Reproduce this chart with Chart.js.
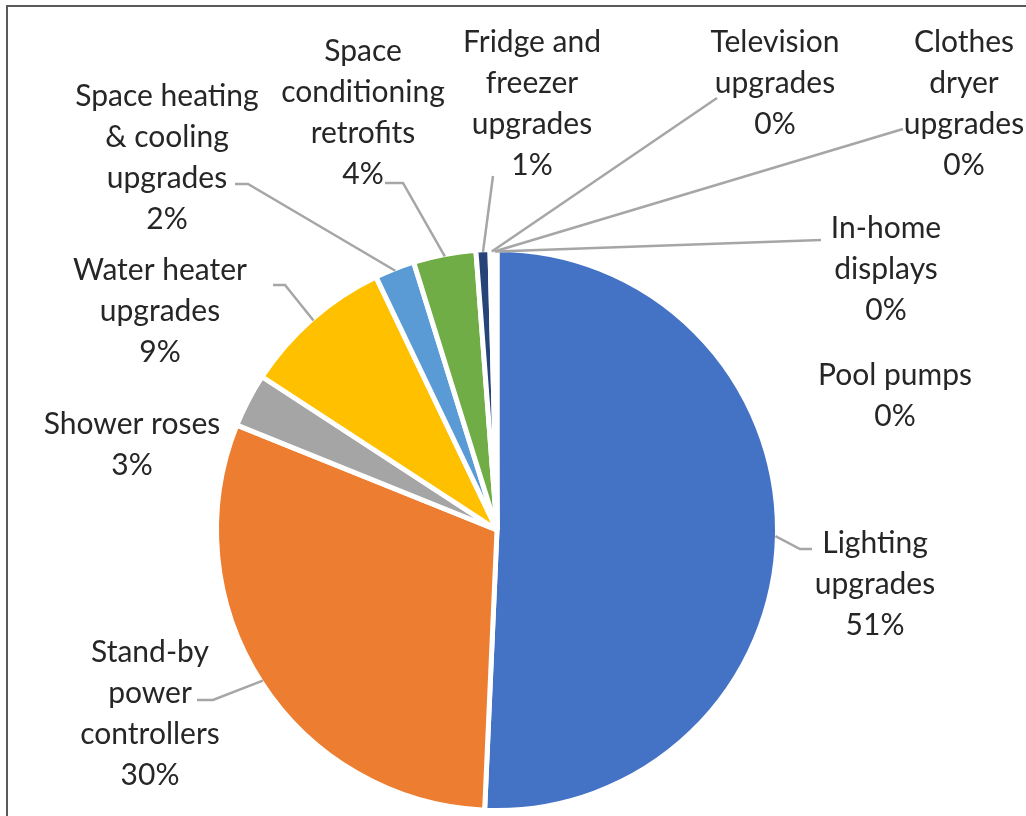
<!DOCTYPE html>
<html>
<head>
<meta charset="utf-8">
<script src="https://cdn.jsdelivr.net/npm/chart.js@4.4.1/dist/chart.umd.min.js"></script>
<style>
  html, body { margin: 0; padding: 0; background: #fff; }
  #wrap { position: relative; width: 1026px; height: 816px; overflow: hidden; }
  #frame { position: absolute; left: 6px; top: 5px; width: 1100px; height: 900px;
           border-left: 2px solid #5a5a5a; border-top: 2px solid #5a5a5a; }
  canvas { position: absolute; left: 0; top: 0; }
</style>
</head>
<body>
<div id="wrap">
  <div id="frame"></div>
  <canvas id="pie" width="1026" height="816"></canvas>
</div>
<script>
// savings share by measure type (%), clockwise from 12 o'clock
const categories = [
  'Lighting\nupgrades',
  'Stand-by\npower\ncontrollers',
  'Shower roses',
  'Water heater\nupgrades',
  'Space heating\n& cooling\nupgrades',
  'Space\nconditioning\nretrofits',
  'Fridge and\nfreezer\nupgrades',
  'Television\nupgrades',
  'Clothes\ndryer\nupgrades',
  'In-home\ndisplays',
  'Pool pumps'
];
const shares = [50.7, 30.4, 3.1, 8.7, 2.3, 3.6, 0.8, 0.2, 0.1, 0.1, 0];
const colours = ['#4472C4', '#ED7D31', '#A5A5A5', '#FFC000', '#5B9BD5', '#70AD47',
                 '#264478', '#9E480E', '#636363', '#997300', '#255E91'];

// label block placement: centre x, first line centre y, leader path (label side first)
const labelPos = [
  { x: 875, y: 543, leader: [[812, 549], [800, 549]] },
  { x: 150, y: 652, leader: [[197, 700], [213, 700]] },
  { x: 132, y: 424, leader: null },
  { x: 160, y: 270, leader: [[273, 285], [285, 285]] },
  { x: 167, y: 96,  leader: [[235, 184], [248, 184]] },
  { x: 363, y: 51,  leader: [[385, 183], [403, 183]] },
  { x: 532, y: 42,  leader: [[493, 176]] },
  { x: 775, y: 42,  leader: [[717, 98]] },
  { x: 964, y: 42,  leader: [[903, 129]] },
  { x: 886, y: 228, leader: [[821, 240]] },
  { x: 895, y: 375, leader: null }
];

const lineGap = 41;

const calloutLabels = {
  id: 'calloutLabels',
  afterDatasetsDraw(chart) {
    const ctx = chart.ctx;
    const meta = chart.getDatasetMeta(0);
    const total = shares.reduce((a, b) => a + b, 0);
    ctx.save();
    // leader lines
    ctx.strokeStyle = '#a6a6a6';
    ctx.lineWidth = 2.5;
    meta.data.forEach((arc, i) => {
      const pos = labelPos[i];
      if (!pos.leader) return;
      const p = arc.getProps(['x', 'y', 'startAngle', 'endAngle', 'outerRadius'], true);
      const mid = (p.startAngle + p.endAngle) / 2;
      const r = p.outerRadius - 2;
      ctx.beginPath();
      pos.leader.forEach(([lx, ly], k) => k ? ctx.lineTo(lx, ly) : ctx.moveTo(lx, ly));
      ctx.lineTo(p.x + Math.cos(mid) * r, p.y + Math.sin(mid) * r);
      ctx.stroke();
    });
    // label text
    ctx.fillStyle = '#262626';
    ctx.font = '30px Lato, "Open Sans", sans-serif';
    ctx.textAlign = 'center';
    ctx.textBaseline = 'middle';
    categories.forEach((name, i) => {
      const lines = name.split('\n');
      lines.push(Math.round(shares[i] / total * 100) + '%');
      lines.forEach((t, k) => ctx.fillText(t, labelPos[i].x, labelPos[i].y + k * lineGap));
    });
    ctx.restore();
  }
};

new Chart(document.getElementById('pie'), {
  type: 'pie',
  data: {
    labels: categories,
    datasets: [{
      data: shares,
      backgroundColor: colours,
      borderColor: '#ffffff',
      borderWidth: 5
    }]
  },
  options: {
    responsive: false,
    animation: false,
    layout: { padding: { left: 214, right: 246, top: 247, bottom: 3 } },
    plugins: {
      legend: { display: false },
      tooltip: { enabled: false }
    }
  },
  plugins: [calloutLabels]
});
</script>
</body>
</html>
